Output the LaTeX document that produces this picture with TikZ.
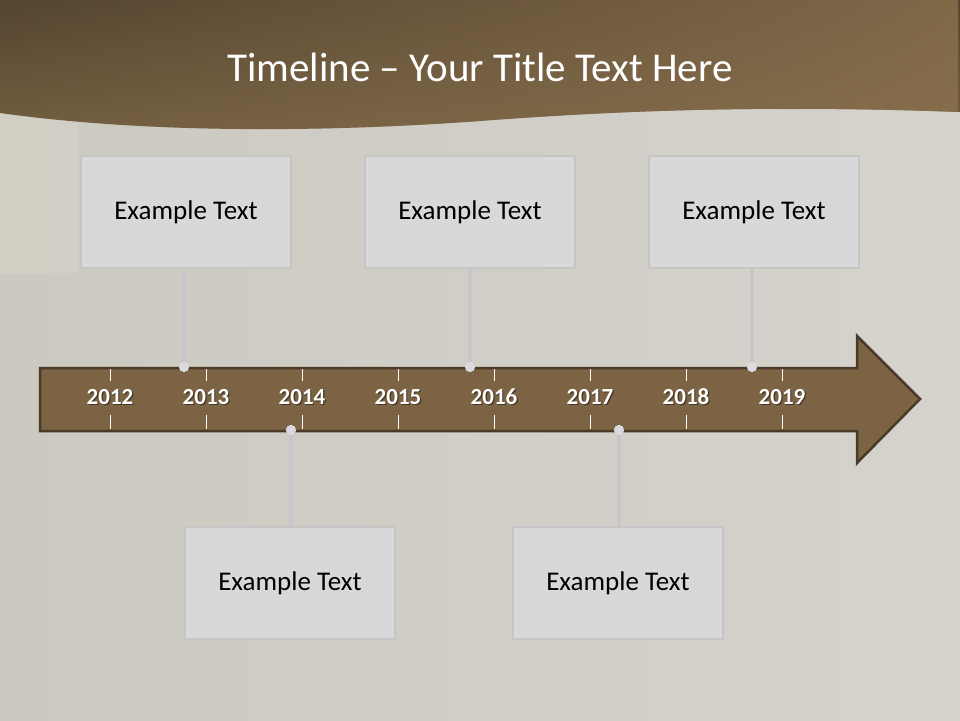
\documentclass[tikz,border=0pt]{standalone}
\usepackage{fontspec}
\usetikzlibrary{fadings}
\setmainfont{Carlito}
\definecolor{bgc}{HTML}{CCC9C1}
\definecolor{hdark}{HTML}{554530}
\definecolor{hmid}{HTML}{735F41}
\definecolor{hlight}{HTML}{8E7451}
\definecolor{arrowfill}{HTML}{7B6343}
\definecolor{arrowline}{HTML}{4A3B29}
\definecolor{boxfill}{HTML}{D8D8D8}
\definecolor{boxline}{HTML}{C5C5C6}
\definecolor{conn}{HTML}{C7C7CB}
\definecolor{dotc}{HTML}{DADADE}
\definecolor{panel}{HTML}{DAD7CC}
\tikzfading[name=fadeleft, left color=transparent!100, right color=transparent!0]
\tikzset{
  textbox/.style={draw=boxline, line width=2.5pt, fill=boxfill, minimum width=210pt, minimum height=112pt, inner sep=0pt, font=\fontsize{27}{30}\selectfont, text=black},
  yearlbl/.style={font=\bfseries\fontsize{23}{26}\selectfont, text=white, inner sep=0pt, anchor=base},
  yearshadow/.style={font=\bfseries\fontsize{23}{26}\selectfont, text=black, opacity=0.45, inner sep=0pt, anchor=base},
  tick/.style={draw=white, line width=1pt},
  connector/.style={draw=conn, line width=4pt},
  pin/.style={circle, fill=dotc, minimum size=10pt, inner sep=0pt}
}
\begin{document}
\begin{tikzpicture}[x=1pt,y=-1pt]
\useasboundingbox (0,0) rectangle (960,720);
% background
\fill[bgc] (0,0) rectangle (960,720);
\shade[left color=bgc, right color=bgc!82!white] (0,110) rectangle (960,720);
\fill[panel, opacity=0.45] (0,112) rectangle (78,273);
% header wave
\def\wave{(0,0) -- (960,0) -- (960,112) .. controls (800,106) and (650,108) .. (480,121)
  .. controls (330,132) and (150,134) .. (0,113) -- cycle}
\shade[top color=hdark, bottom color=hmid] \wave;
\fill[hlight, path fading=fadeleft, opacity=0.75] \wave;
\node[text=white, font=\fontsize{41}{44}\selectfont] (title) at (480,67) {Timeline -- Your Title Text Here};
% arrow
\draw[fill=arrowfill, draw=arrowline, line width=2.5pt, line join=miter]
  (40,368) -- (857,368) -- (857,336) -- (920,399) -- (857,463) -- (857,431) -- (40,431) -- cycle;
% ticks and years
\foreach \yr [count=\i from 0] in {2012,2013,2014,2015,2016,2017,2018,2019} {
  \pgfmathsetmacro{\xx}{110+96*\i}
  \draw[tick] (\xx,369) -- (\xx,381);
  \draw[tick] (\xx,415) -- (\xx,429);
  \node[yearshadow] (ys\yr) at (\xx+1.2,405.8) {\yr};
  \node[yearlbl] (y\yr) at (\xx,404.6) {\yr};
}
% boxes
\node[textbox] (b1) at (186,212) {Example Text};
\node[textbox] (b2) at (470,212) {Example Text};
\node[textbox] (b3) at (754,212) {Example Text};
\node[textbox] (b4) at (290,583) {Example Text};
\node[textbox] (b5) at (618,583) {Example Text};
% pins
\node[pin] (p1) at (184,367) {};
\node[pin] (p2) at (470,367) {};
\node[pin] (p3) at (752,367) {};
\node[pin] (p4) at (291,430) {};
\node[pin] (p5) at (619,430) {};
% connectors
\draw[connector] (b1.south -| p1) -- (p1.center);
\draw[connector] (b2.south -| p2) -- (p2.center);
\draw[connector] (b3.south -| p3) -- (p3.center);
\draw[connector] (b4.north -| p4) -- (p4.center);
\draw[connector] (b5.north -| p5) -- (p5.center);
\node[pin] at (p1) {};
\node[pin] at (p2) {};
\node[pin] at (p3) {};
\node[pin] at (p4) {};
\node[pin] at (p5) {};
\end{tikzpicture}
\end{document}
